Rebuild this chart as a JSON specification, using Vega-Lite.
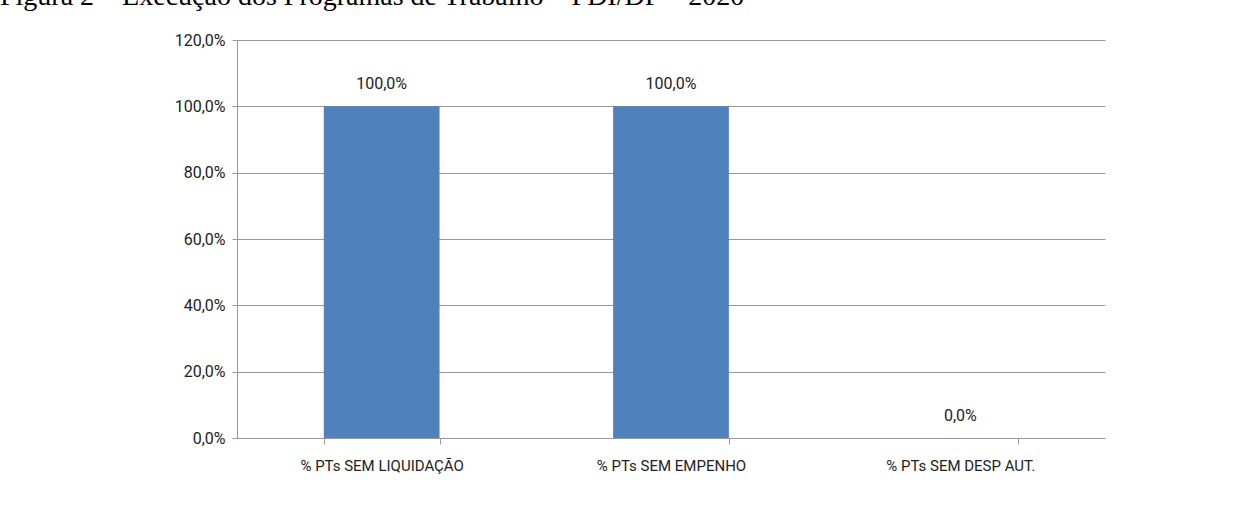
{
  "$schema": "https://vega.github.io/schema/vega-lite/v6.json",
  "autosize": {"type": "none"},
  "padding": {"left": 237, "top": 40, "right": 150, "bottom": 67},
  "width": 868,
  "height": 398,
  "background": "white",
  "title": {
    "text": "Figura 2 – Execução dos Programas de Trabalho – PDI/DF – 2020",
    "anchor": "start",
    "frame": "group",
    "dx": -237,
    "offset": -7,
    "baseline": "bottom",
    "font": "Liberation Serif",
    "fontSize": 28,
    "fontWeight": "normal",
    "color": "black"
  },
  "data": {
    "values": [
      {"categoria": "% PTs SEM LIQUIDAÇÃO", "valor": 1.0},
      {"categoria": "% PTs SEM EMPENHO", "valor": 1.0},
      {"categoria": "% PTs SEM DESP AUT.", "valor": 0.0}
    ]
  },
  "encoding": {
    "x": {
      "field": "categoria",
      "type": "nominal",
      "sort": null,
      "scale": {"paddingInner": 0.6, "paddingOuter": 0.3},
      "axis": {
        "title": null,
        "labelAngle": 0,
        "domainColor": "#999999",
        "tickColor": "#999999",
        "tickBand": "extent",
        "tickSize": 6,
        "labelPadding": 14,
        "labelFont": "Roboto",
        "labelFontSize": 15,
        "labelColor": "#222222",
        "grid": false
      }
    },
    "y": {
      "field": "valor",
      "type": "quantitative",
      "scale": {"domain": [0, 1.2], "nice": false},
      "axis": {
        "title": null,
        "values": [0, 0.2, 0.4, 0.6, 0.8, 1.0, 1.2],
        "format": ".1%",
        "domainColor": "#999999",
        "tickColor": "#999999",
        "gridColor": "#999999",
        "gridOpacity": 1,
        "tickSize": 5,
        "labelPadding": 7,
        "labelFont": "Roboto",
        "labelFontSize": 16,
        "labelColor": "#222222"
      }
    }
  },
  "layer": [
    {"mark": {"type": "bar", "color": "#4F81BD"}},
    {
      "mark": {"type": "text", "dy": -22, "font": "Roboto", "fontSize": 16, "color": "#222222"},
      "encoding": {"text": {"field": "valor", "type": "quantitative", "format": ".1%"}}
    }
  ],
  "config": {
    "view": {"stroke": null},
    "locale": {
      "number": {"decimal": ",", "thousands": ".", "grouping": [3], "currency": ["R$", ""], "percent": "%"}
    }
  }
}
